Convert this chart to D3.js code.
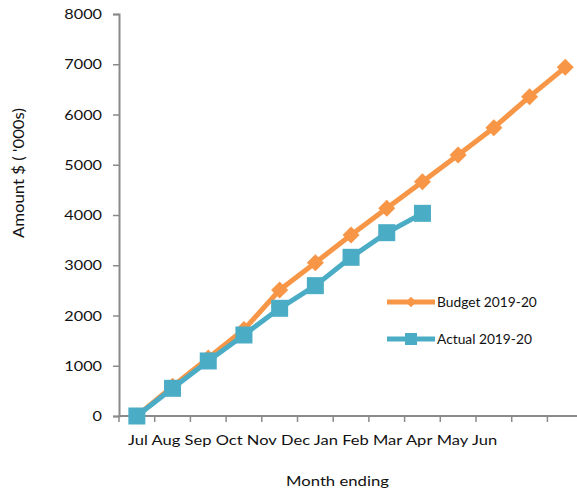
<!DOCTYPE html>
<html><head><meta charset="utf-8">
<script src="https://cdn.jsdelivr.net/npm/d3@7"></script>
<style>body{margin:0;background:#fff}svg{display:block}text{font-family:Lato,"Open Sans",sans-serif;fill:#111}</style>
</head><body><svg id="c" width="577" height="493"></svg>
<script>
const monthLabels = ["Jul","Aug","Sep","Oct","Nov","Dec","Jan","Feb","Mar","Apr","May","Jun"];
const slots = [0,1,2,3,4,5,6,7,8,9,10,11,12];
const budget = [0,590,1155,1720,2507,3051,3602,4133,4663,5194,5738,6355,6939];
const actual = [0,551,1095,1612,2143,2594,3158,3648,4033];
const yTicks = [0,1000,2000,3000,4000,5000,6000,7000,8000];
const seriesNames = ["Budget 2019-20","Actual 2019-20"];
const colors = ["#F79646","#4BACC6"];

const svg = d3.select("#c");
const x = d3.scaleBand().domain(slots).range([119, 119 + 35.7*13]);
const y = d3.scaleLinear().domain([0,8000]).range([416,14]);
const cx = i => x(i) + x.bandwidth()/2;
const SX = 1.3;

function placeText(sel, px, py, opts={}){
  const len = sel.node().getComputedTextLength();
  const s = opts.width ? opts.width/len : SX;
  sel.attr("x",0).attr("y",0)
     .attr("transform",`translate(${px},${py})${opts.rot?` rotate(${opts.rot})`:""} scale(${s},1)`);
  return sel;
}

// y axis
const ya = svg.append("g").attr("transform","translate(119,0)")
  .call(d3.axisLeft(y).tickValues(yTicks).tickFormat(d3.format("d")).tickSize(6).tickPadding(9));
ya.select(".domain").attr("stroke","#8a8a8a").attr("stroke-width",2);
ya.selectAll(".tick line").attr("stroke","#8a8a8a").attr("stroke-width",1.5);
ya.selectAll(".tick text").attr("font-size",12.5).attr("font-family","Lato,sans-serif").attr("fill","#111")
  .attr("dy",null)
  .each(function(){ placeText(d3.select(this), -17, 4.5); });

// x axis (ticks between categories)
const xa = svg.append("g").attr("transform","translate(0,416)")
  .call(d3.axisBottom(x).tickValues(slots).tickFormat("").tickSize(6));
xa.select(".domain").attr("stroke","#8a8a8a").attr("stroke-width",2).attr("d","M119,0H577");
xa.selectAll(".tick").attr("transform", d => `translate(${x(d)},0)`);
xa.selectAll(".tick line").attr("stroke","#8a8a8a").attr("stroke-width",1.5);

// month labels as one flowing line
const ml = svg.append("text").attr("font-size",13.5);
ml.selectAll("tspan").data(monthLabels).join("tspan")
  .text((d,i)=> (i? " ":"") + d);
placeText(ml, 128, 445, {width:368});

// axis titles
placeText(svg.append("text").attr("font-size",13.5).text("Month ending"), 286, 486, {width:103});
placeText(svg.append("text").attr("font-size",14.5).text("Amount $ ( '000s)"), 24, 238, {rot:-90, width:130});

const line = d3.line().x((d,i)=>cx(i)).y(d=>y(d));
// budget
svg.append("path").datum(budget).attr("d",line).attr("fill","none").attr("stroke",colors[0]).attr("stroke-width",5).attr("stroke-linejoin","round");
svg.append("g").selectAll("path").data(budget).join("path")
  .attr("d", d3.symbol(d3.symbolDiamond2, 185))
  .attr("transform",(d,i)=>`translate(${cx(i)},${y(d)})`)
  .attr("fill",colors[0]);
svg.append("path").datum(actual).attr("d",line).attr("fill","none").attr("stroke",colors[1]).attr("stroke-width",5).attr("stroke-linejoin","round");
svg.append("g").selectAll("rect").data(actual).join("rect")
  .attr("x",(d,i)=>cx(i)-8.5).attr("y",d=>y(d)-8.5).attr("width",17).attr("height",17)
  .attr("fill",colors[1]);

// legend
const lg = svg.append("g");
[302,339].forEach((ly,k)=>{
  lg.append("line").attr("x1",387).attr("x2",435).attr("y1",ly).attr("y2",ly).attr("stroke",colors[k]).attr("stroke-width",5);
  if(k===0) lg.append("path").attr("d",d3.symbol(d3.symbolDiamond2,70)).attr("transform",`translate(411,${ly})`).attr("fill",colors[0]);
  else lg.append("rect").attr("x",405).attr("y",ly-6).attr("width",12).attr("height",12).attr("fill",colors[1]);
  placeText(lg.append("text").attr("font-size",13).text(seriesNames[k]), 437, ly+5, {width: k===0?100:95});
});
</script></body></html>
